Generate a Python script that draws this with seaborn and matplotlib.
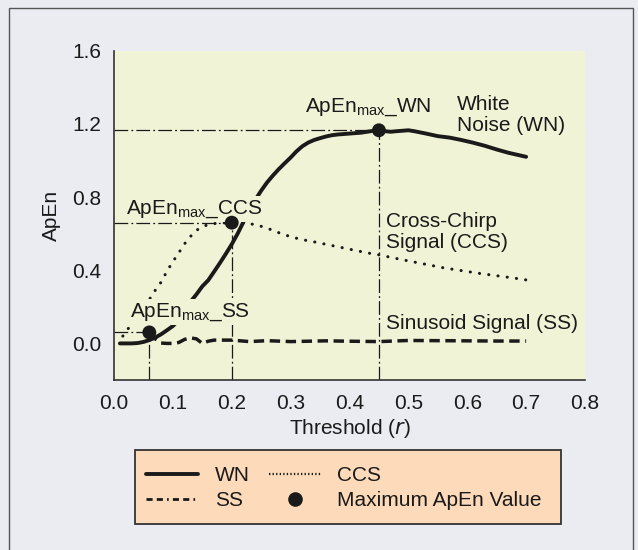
import matplotlib
matplotlib.use("Agg")
import matplotlib.pyplot as plt
from matplotlib.lines import Line2D
from matplotlib.patches import Rectangle
import seaborn as sns
import pandas as pd

# ---------------- data ----------------
wn_r = [0.01, 0.02, 0.03, 0.04, 0.05, 0.06, 0.07, 0.08, 0.09, 0.10, 0.11, 0.12,
        0.13, 0.14, 0.15, 0.16, 0.17, 0.18, 0.19, 0.20, 0.21, 0.22, 0.23, 0.24,
        0.25, 0.26, 0.27, 0.28, 0.29, 0.30, 0.31, 0.32, 0.33, 0.34, 0.35, 0.36,
        0.37, 0.38, 0.40, 0.42, 0.44, 0.45, 0.46, 0.47, 0.48, 0.50, 0.51, 0.53,
        0.55, 0.57, 0.59, 0.61, 0.63, 0.65, 0.67, 0.70]
wn_apen = [0.000, 0.000, 0.000, 0.002, 0.008, 0.018, 0.032, 0.050, 0.072, 0.095,
           0.128, 0.175, 0.228, 0.268, 0.312, 0.345, 0.392, 0.440, 0.490, 0.542,
           0.600, 0.665, 0.735, 0.785, 0.835, 0.880, 0.918, 0.953, 0.985, 1.016,
           1.050, 1.078, 1.098, 1.112, 1.122, 1.131, 1.138, 1.142, 1.147, 1.152,
           1.162, 1.166, 1.160, 1.157, 1.160, 1.165, 1.160, 1.147, 1.133, 1.125,
           1.112, 1.097, 1.080, 1.060, 1.042, 1.020]

ccs_r = [0.015, 0.02, 0.03, 0.04, 0.05, 0.06, 0.07, 0.08, 0.09, 0.10, 0.11, 0.12,
         0.13, 0.14, 0.15, 0.16, 0.17, 0.18, 0.20, 0.22, 0.24, 0.26, 0.28, 0.30,
         0.32, 0.34, 0.37, 0.40, 0.43, 0.45, 0.48, 0.50, 0.53, 0.56, 0.59, 0.62,
         0.65, 0.68, 0.70]
ccs_apen = [0.040, 0.064, 0.105, 0.150, 0.195, 0.240, 0.290, 0.335, 0.395, 0.447,
            0.495, 0.545, 0.585, 0.618, 0.638, 0.649, 0.655, 0.658, 0.660, 0.657,
            0.650, 0.630, 0.605, 0.583, 0.567, 0.555, 0.535, 0.515, 0.495, 0.484,
            0.464, 0.451, 0.432, 0.413, 0.398, 0.383, 0.370, 0.357, 0.347]

ss_r = [0.06, 0.07, 0.08, 0.09, 0.10, 0.11, 0.12, 0.13, 0.14, 0.15, 0.16, 0.17,
        0.20, 0.23, 0.26, 0.30, 0.33, 0.36, 0.40, 0.45, 0.50, 0.55, 0.60, 0.65, 0.70]
ss_apen = [0.060, 0.025, 0.002, 0.000, 0.000, 0.005, 0.022, 0.030, 0.025, 0.000,
           0.012, 0.018, 0.018, 0.010, 0.015, 0.010, 0.012, 0.014, 0.012, 0.010,
           0.016, 0.015, 0.014, 0.013, 0.013]

max_names = ["SS", "CCS", "WN"]
max_r = [0.06, 0.20, 0.45]
max_apen = [0.06, 0.66, 1.165]

x_ticks = [0.0, 0.1, 0.2, 0.3, 0.4, 0.5, 0.6, 0.7, 0.8]
y_ticks = [0.0, 0.4, 0.8, 1.2, 1.6]

# ---------------- style ----------------
sns.set_theme(style="white")
plt.rcParams["font.family"] = ["Liberation Sans", "DejaVu Sans"]
plt.rcParams["mathtext.default"] = "regular"

FIG_BG = "#EBEBF2"
PLOT_BG = "#F1F3D6"
LEG_BG = "#FDDAB9"
INK = "#1a1a1a"
FS = 15

W, H = 638, 550
fig = plt.figure(figsize=(W / 100, H / 100), dpi=100)
fig.patch.set_facecolor(FIG_BG)

ax = fig.add_axes([114 / W, 1 - 380 / H, (585 - 114) / W, (380 - 50.7) / H])
ax.set_facecolor(PLOT_BG)

wn_df = pd.DataFrame({"r": wn_r, "apen": wn_apen})
ccs_df = pd.DataFrame({"r": ccs_r, "apen": ccs_apen})
ss_df = pd.DataFrame({"r": ss_r, "apen": ss_apen})
max_df = pd.DataFrame({"name": max_names, "r": max_r, "apen": max_apen})

ymin = -0.2
# reference dash-dot lines
refstyle = dict(color=INK, lw=0.9, linestyle=(0, (11, 2.5, 1.5, 2.5)), zorder=1.5)
for r, a in zip(max_r, max_apen):
    ax.plot([0, r], [a, a], **refstyle)
    ax.plot([r, r], [ymin, a], **refstyle)

sns.lineplot(data=wn_df, x="r", y="apen", ax=ax, color=INK, linewidth=2.8,
             solid_capstyle="round", zorder=2.2)
sns.lineplot(data=ccs_df, x="r", y="apen", ax=ax, color=INK, linewidth=2.2,
             linestyle=(0, (0.05, 3.0)), dash_capstyle="round", zorder=2.1)
sns.lineplot(data=ss_df, x="r", y="apen", ax=ax, color=INK, linewidth=2.5,
             linestyle=(0, (3.0, 1.6)), zorder=2.1)
sns.scatterplot(data=max_df, x="r", y="apen", ax=ax, color=INK, s=100,
                edgecolor="none", zorder=5)

# annotations
lab_box = dict(boxstyle="square,pad=0.12", facecolor=PLOT_BG, edgecolor="none")
ax.text(0.324, 1.264, r"ApEn$_{max}$_WN", fontsize=FS, color=INK, va="baseline",
        ha="left", zorder=3, bbox=lab_box)
ax.text(0.020, 0.709, r"ApEn$_{max}$_CCS", fontsize=FS, color=INK, va="baseline",
        ha="left", zorder=3, bbox=lab_box)
ax.text(0.028, 0.147, r"ApEn$_{max}$_SS", fontsize=FS, color=INK, va="baseline",
        ha="left", zorder=3, bbox=lab_box)

ax.text(0.583, 1.25, "White\nNoise (WN)", fontsize=FS, color=INK, va="center",
        ha="left", linespacing=1.15)
ax.text(0.4615, 0.611, "Cross-Chirp\nSignal (CCS)", fontsize=FS, color=INK,
        va="center", ha="left", linespacing=1.15)
ax.text(0.4615, 0.11, "Sinusoid Signal (SS)", fontsize=FS, color=INK,
        va="center", ha="left")

ax.set_xlim(0, 0.8)
ax.set_ylim(ymin, 1.6)
ax.set_xticks(x_ticks)
ax.set_xticklabels([f"{t:.1f}" for t in x_ticks])
ax.set_yticks(y_ticks)
ax.set_yticklabels([f"{t:.1f}" for t in y_ticks])
ax.tick_params(axis="both", direction="out", length=4, width=1.1, color="#333333",
               labelsize=FS, labelcolor=INK)
ax.tick_params(axis="x", pad=6)
ax.tick_params(axis="y", pad=5)
for s in ["top", "right"]:
    ax.spines[s].set_visible(False)
for s in ["left", "bottom"]:
    ax.spines[s].set_color("#333333")
    ax.spines[s].set_linewidth(1.2)
ax.set_xlabel("Threshold ($\\it{r}$)", fontsize=FS, color=INK, labelpad=3)
ax.set_ylabel("ApEn", fontsize=FS, color=INK, labelpad=8)

# legend box
fig.patches.append(Rectangle((135 / W, 1 - 524 / H), (561 - 135) / W, (524 - 449.5) / H,
                             transform=fig.transFigure, facecolor=LEG_BG,
                             edgecolor="#333333", linewidth=1.3, zorder=0))
handles = [
    Line2D([], [], color=INK, lw=2.8),
    Line2D([], [], color=INK, lw=2.0, linestyle=(0, (2.2, 1.5, 2.2, 1.5, 0.6, 1.5))),
    Line2D([], [], color=INK, lw=1.6, linestyle=(0, (0.6, 1.0))),
    Line2D([], [], color=INK, marker="o", markersize=9.5, linestyle="none"),
]
labels = ["WN", "SS", "CCS", "Maximum ApEn Value"]
fig.legend(handles, labels, ncol=2, frameon=False, loc="upper left",
           bbox_to_anchor=(146 / W, 1 - 466 / H), fontsize=FS,
           borderpad=0, borderaxespad=0, handlelength=2.5, handletextpad=0.8,
           columnspacing=0.9, labelspacing=0.28, labelcolor=INK)

# figure frame
fig.patches.append(Rectangle((9 / W, -0.01), (633 - 9) / W, 1.01 - 8 / H,
                             transform=fig.transFigure, facecolor="none",
                             edgecolor="#555555", linewidth=1.0, zorder=0))

fig.savefig("out.png", dpi=100, facecolor=FIG_BG)
